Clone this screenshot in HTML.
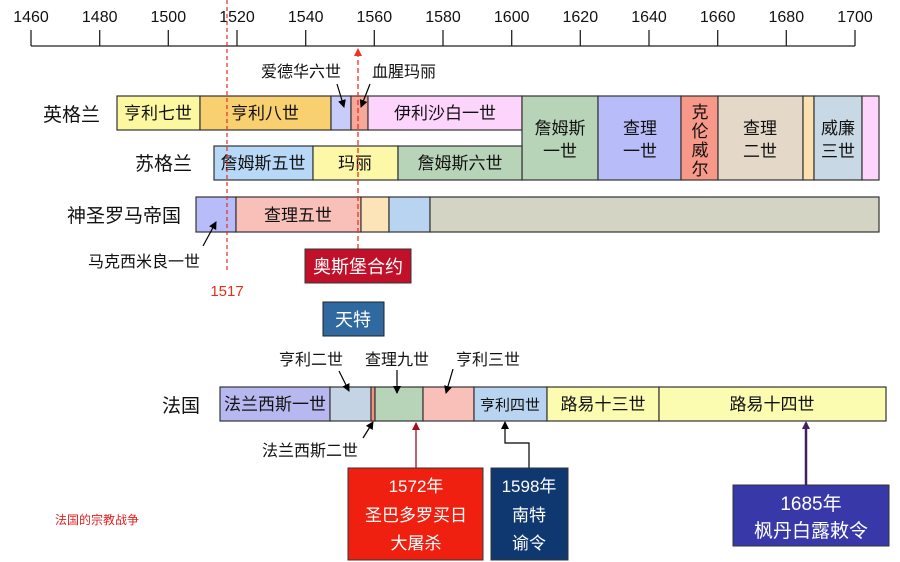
<!DOCTYPE html>
<html><head><meta charset="utf-8"><style>
html,body{margin:0;padding:0;background:#fff;}
svg{display:block;font-family:"Liberation Sans","Noto Sans CJK SC",sans-serif;}
</style></head><body>
<svg width="900" height="562" viewBox="0 0 900 562" xmlns="http://www.w3.org/2000/svg">
<defs>
<marker id="ab" markerWidth="8" markerHeight="8" refX="7" refY="4" orient="auto" markerUnits="userSpaceOnUse"><path d="M0,0 L8,4 L0,8 z" fill="#000"/></marker>
<marker id="ar" markerWidth="8" markerHeight="8" refX="7" refY="4" orient="auto" markerUnits="userSpaceOnUse"><path d="M0,0 L8,4 L0,8 z" fill="#f03020"/></marker>
<marker id="ad" markerWidth="8" markerHeight="8" refX="7" refY="4" orient="auto" markerUnits="userSpaceOnUse"><path d="M0,0 L8,4 L0,8 z" fill="#a01020"/></marker>
<marker id="ap" markerWidth="8" markerHeight="8" refX="6" refY="4" orient="auto" markerUnits="userSpaceOnUse"><path d="M0,0 L8,4 L0,8 z" fill="#402060"/></marker>
</defs>
<g stroke="#222" stroke-width="1.3">
<line x1="31" y1="46" x2="855" y2="46"/>
<line x1="31" y1="30" x2="31" y2="46"/><line x1="99.7" y1="30" x2="99.7" y2="46"/><line x1="168.3" y1="30" x2="168.3" y2="46"/><line x1="237" y1="30" x2="237" y2="46"/><line x1="305.7" y1="30" x2="305.7" y2="46"/><line x1="374.3" y1="30" x2="374.3" y2="46"/><line x1="443" y1="30" x2="443" y2="46"/><line x1="511.7" y1="30" x2="511.7" y2="46"/><line x1="580.3" y1="30" x2="580.3" y2="46"/><line x1="649" y1="30" x2="649" y2="46"/><line x1="717.7" y1="30" x2="717.7" y2="46"/><line x1="786.3" y1="30" x2="786.3" y2="46"/><line x1="855" y1="30" x2="855" y2="46"/>
</g>
<g font-size="16" fill="#111" text-anchor="middle">
<text x="31" y="22">1460</text><text x="99.7" y="22">1480</text><text x="168.3" y="22">1500</text><text x="237" y="22">1520</text><text x="305.7" y="22">1540</text><text x="374.3" y="22">1560</text><text x="443" y="22">1580</text><text x="511.7" y="22">1600</text><text x="580.3" y="22">1620</text><text x="649" y="22">1640</text><text x="717.7" y="22">1660</text><text x="786.3" y="22">1680</text><text x="855" y="22">1700</text>
</g>
<g stroke="#333" stroke-width="1.2">
<rect x="117" y="96" width="83" height="34" fill="#fcf8a0"/>
<rect x="200" y="96" width="131" height="34" fill="#f8d070"/>
<rect x="331" y="96" width="20" height="34" fill="#c8ccf8"/>
<rect x="351" y="96" width="17" height="34" fill="#f8a898"/>
<rect x="368" y="96" width="154" height="34" fill="#fcd4fc"/>
<rect x="522" y="96" width="76" height="84" fill="#b8d4b8"/>
<rect x="598" y="96" width="83" height="84" fill="#b8bcf8"/>
<rect x="681" y="96" width="37" height="84" fill="#f89888"/>
<rect x="718" y="96" width="85" height="84" fill="#e4d8c8"/>
<rect x="803" y="96" width="11" height="84" fill="#fce0b0"/>
<rect x="814" y="96" width="48" height="84" fill="#c8d8e4"/>
<rect x="862" y="96" width="17" height="84" fill="#fcd4fc"/>
<rect x="214" y="146" width="99" height="34" fill="#b8d8f8"/>
<rect x="313" y="146" width="85" height="34" fill="#fcf8a8"/>
<rect x="398" y="146" width="124" height="34" fill="#b8d4b8"/>
<rect x="196" y="197" width="40" height="35" fill="#b8bcf8"/>
<rect x="236" y="197" width="125" height="35" fill="#f8c0b8"/>
<rect x="361" y="197" width="28" height="35" fill="#fce4b8"/>
<rect x="389" y="197" width="41" height="35" fill="#b8d4f0"/>
<rect x="430" y="197" width="449" height="35" fill="#d4d4c4"/>
<rect x="220" y="387" width="110" height="34" fill="#b8b8f0"/>
<rect x="330" y="387" width="41" height="34" fill="#c4d4e4"/>
<rect x="371" y="387" width="4" height="34" fill="#f89080"/>
<rect x="375" y="387" width="48" height="34" fill="#b8d4b8"/>
<rect x="423" y="387" width="51" height="34" fill="#f8c0b8"/>
<rect x="474" y="387" width="73" height="34" fill="#b8d4f0"/>
<rect x="547" y="387" width="112" height="34" fill="#fcfcb0"/>
<rect x="659" y="387" width="227" height="34" fill="#fcfcb0"/>
</g>
<g font-size="17" fill="#111" text-anchor="middle">
<text x="158" y="119">亨利七世</text><text x="265" y="119">亨利八世</text><text x="445" y="119">伊利沙白一世</text>
<text x="560" y="134">詹姆斯</text><text x="560" y="157">一世</text>
<text x="640" y="134">查理</text><text x="640" y="157">一世</text>
<text x="700" y="118">克</text><text x="700" y="137">伦</text><text x="700" y="156">威</text><text x="700" y="175">尔</text>
<text x="760" y="134">查理</text><text x="760" y="157">二世</text>
<text x="838" y="134">威廉</text><text x="838" y="157">三世</text>
<text x="263" y="169">詹姆斯五世</text><text x="355" y="169">玛丽</text><text x="460" y="169">詹姆斯六世</text>
<text x="298" y="221">查理五世</text>
<text x="275" y="410">法兰西斯一世</text><text x="510" y="410" font-size="15">亨利四世</text><text x="603" y="410">路易十三世</text><text x="772" y="410">路易十四世</text>
</g>
<g font-size="19" fill="#111" text-anchor="end">
<text x="100" y="121">英格兰</text><text x="192" y="170">苏格兰</text><text x="181" y="222">神圣罗马帝国</text><text x="200" y="412">法国</text>
</g>
<g font-size="16" fill="#111" text-anchor="middle">
<text x="301" y="77">爱德华六世</text><text x="404" y="77">血腥玛丽</text>
<text x="144" y="267">马克西米良一世</text>
<text x="311" y="365">亨利二世</text><text x="397" y="365">查理九世</text><text x="488" y="365">亨利三世</text>
<text x="310" y="456">法兰西斯二世</text>
</g>
<g stroke="#000" stroke-width="1.2" fill="none" marker-end="url(#ab)">
<line x1="337" y1="84" x2="344" y2="107"/>
<line x1="370" y1="84" x2="361" y2="107"/>
<line x1="203" y1="246" x2="216" y2="222"/>
<line x1="339" y1="371" x2="349" y2="391"/>
<line x1="397" y1="370" x2="397" y2="393"/>
<line x1="453" y1="369" x2="446" y2="393"/>
<line x1="363" y1="438" x2="373" y2="422"/>
<polyline points="529,468 529,443 505,443 505,422"/>
</g>
<line x1="227" y1="0" x2="227" y2="272" stroke="#e03020" stroke-width="1.2" stroke-dasharray="4,3"/>
<text x="227" y="296" font-size="15" fill="#e03020" text-anchor="middle">1517</text>
<line x1="358" y1="249" x2="358" y2="49" stroke="#f03020" stroke-width="1.3" stroke-dasharray="5,3" marker-end="url(#ar)"/>
<rect x="305" y="249" width="106" height="34" fill="#c0102a" stroke="#333"/>
<text x="358" y="273" font-size="18" fill="#fff" text-anchor="middle">奥斯堡合约</text>
<rect x="323" y="302" width="61" height="34" fill="#3068a0" stroke="#222"/>
<text x="353" y="326" font-size="18" fill="#fff" text-anchor="middle">天特</text>
<line x1="416" y1="468" x2="416" y2="423" stroke="#a01020" stroke-width="1.3" marker-end="url(#ad)"/>
<rect x="348" y="468" width="135" height="92" fill="#f02010" stroke="#333"/>
<g font-size="17" fill="#fff" text-anchor="middle">
<text x="416" y="492">1572年</text><text x="416" y="521">圣巴多罗买日</text><text x="416" y="549">大屠杀</text>
</g>
<rect x="491" y="468" width="77" height="92" fill="#103870" stroke="#333"/>
<g font-size="17" fill="#fff" text-anchor="middle">
<text x="529" y="492">1598年</text><text x="529" y="521">南特</text><text x="529" y="549">谕令</text>
</g>
<line x1="806" y1="485" x2="806" y2="423" stroke="#402060" stroke-width="2.5" marker-end="url(#ap)"/>
<rect x="733" y="485" width="156" height="61" fill="#3838a8" stroke="#333"/>
<g font-size="19" fill="#fff" text-anchor="middle">
<text x="811" y="510">1685年</text><text x="811" y="537">枫丹白露敕令</text>
</g>
<text x="55" y="524" font-size="12" fill="#e02020">法国的宗教战争</text>
</svg>
</body></html>
